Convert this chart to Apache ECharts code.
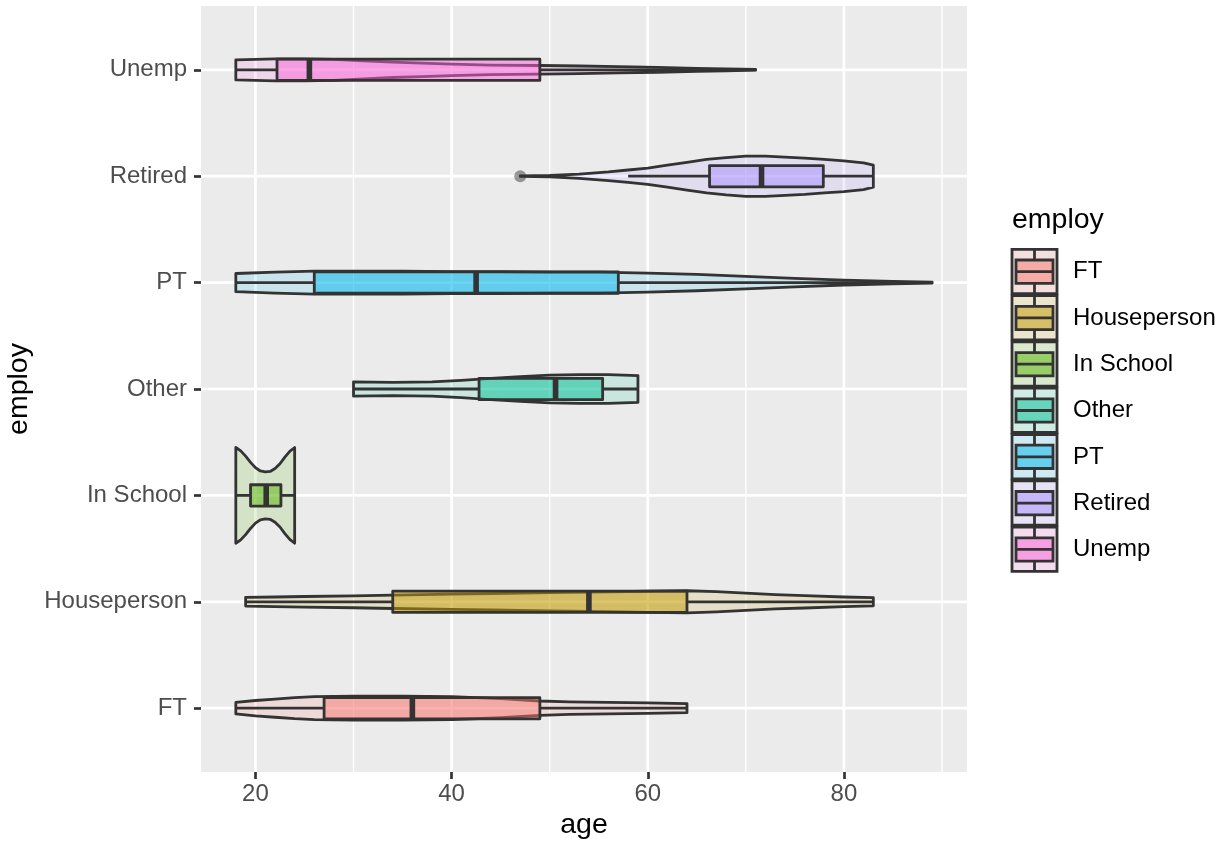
<!DOCTYPE html>
<html><head><meta charset="utf-8">
<script src="https://cdn.jsdelivr.net/npm/echarts@6/dist/echarts.min.js"></script>
<style>html,body{margin:0;padding:0;background:#fff}#c{width:1222px;height:843px}</style>
</head><body><div id="c"></div><script>
// ---- data ----
const categories = ['FT','Houseperson','In School','Other','PT','Retired','Unemp'];
const colors = ['#F8766D','#C49A00','#53B400','#00C094','#00B6EB','#A58AFF','#FB61D7'];
const whiskerLow  = [18, 19, 18,   30,   18, 58,   18];
const q1          = [27, 34, 19.5, 42.8, 26, 66.3, 22.2];
const medians     = [36, 54, 21.1, 50.6, 42.5, 71.6, 25.5];
const q3          = [49, 64, 22.6, 55.4, 57, 77.9, 49];
const whiskerHigh = [64, 83, 24,   59,   89, 83,   71];
const outliers = [[47, 'Retired']];
// violin relative density profiles [age, density(0..1)]
const densityFT = [[18,.12],[20,.16],[22,.19],[24,.22],[26,.24],[30,.25],[35,.25],[40,.24],[45,.2],[49,.15],[52,.13],[56,.12],[60,.11],[64,.095]];
const densityHouseperson = [[19,.09],[22,.1],[25,.11],[30,.125],[34,.14],[40,.16],[44,.17],[50,.19],[54,.2],[60,.22],[64,.23],[67,.21],[70,.18],[73,.15],[76,.13],[80,.1],[83,.085]];
const densityInSchool = [[18,1.0],[18.5,.93],[19,.82],[19.5,.69],[20,.58],[20.5,.51],[21,.49],[21.5,.5],[22,.56],[22.5,.66],[23,.8],[23.5,.92],[24,1.0]];
const densityOther = [[30,.15],[34,.14],[38,.15],[41,.18],[44,.22],[47,.26],[50,.29],[53,.3],[56,.3],[59,.28]];
const densityPT = [[18,.19],[22,.22],[26,.24],[30,.24],[35,.24],[40,.23],[45,.23],[50,.22],[55,.22],[60,.2],[65,.17],[70,.13],[75,.09],[80,.05],[85,.025],[89,.008]];
const densityRetired = [[47,.005],[50,.015],[53,.045],[56,.09],[58,.13],[60,.17],[62,.23],[64,.29],[66,.35],[68,.39],[70,.42],[72,.42],[74,.4],[76,.38],[78,.35],[80,.32],[82,.28],[83,.23]];
const densityUnemp = [[18,.21],[20,.22],[22,.23],[25,.23],[28,.22],[31,.19],[34,.16],[37,.14],[40,.12],[44,.1],[49,.09],[53,.08],[57,.065],[61,.05],[65,.03],[68,.02],[71,.008]];
const majorBreaks = [20, 40, 60, 80];
const minorBreaks = [30, 50, 70, 90];

// ---- styles ----
const profiles = [densityFT, densityHouseperson, densityInSchool, densityOther, densityPT, densityRetired, densityUnemp];
const VIOLIN_HALF = 0.45, BOX_HALF = 0.1;
const LW = 2.8, INK = '#333333';
const FONT = 'Liberation Sans, Arial, sans-serif';
function rgba(hex, a){const n=parseInt(hex.slice(1),16);return `rgba(${n>>16&255},${n>>8&255},${n&255},${a})`;}
const yTicks = categories.map((c,i)=>i+1);

const chart = echarts.init(document.getElementById('c'), null, {renderer:'canvas'});

function gridV(width){
  return function(params, api){
    const cs = params.coordSys;
    const x = api.coord([api.value(0), 1])[0];
    return {type:'line', shape:{x1:x,y1:cs.y,x2:x,y2:cs.y+cs.height}, style:{stroke:'#fff',lineWidth:width}};
  };
}
function gridH(params, api){
  const cs = params.coordSys;
  const y = api.coord([50, api.value(0)])[1];
  return {type:'line', shape:{x1:cs.x,y1:y,x2:cs.x+cs.width,y2:y}, style:{stroke:'#fff',lineWidth:2.7}};
}
function renderViolin(params, api){
  const i = api.value(0);
  const prof = profiles[i];
  const yc = i + 1;
  const top = prof.map(p => api.coord([p[0], yc + p[1]*VIOLIN_HALF]));
  const bot = prof.map(p => api.coord([p[0], yc - p[1]*VIOLIN_HALF])).reverse();
  return {type:'polygon', shape:{points: top.concat(bot)},
    style:{fill: rgba(colors[i], 0.15), stroke: INK, lineWidth: LW, lineJoin:'round'}};
}
function renderBox(params, api){
  const i = api.value(0), yc = i + 1;
  const lo = api.value(1), a = api.value(2), m = api.value(3), b = api.value(4), hi = api.value(5);
  const pLo = api.coord([lo, yc]), pA = api.coord([a, yc]), pB = api.coord([b, yc]), pHi = api.coord([hi, yc]);
  const r1 = api.coord([a, yc + BOX_HALF]), r2 = api.coord([b, yc - BOX_HALF]);
  const m1 = api.coord([m, yc + BOX_HALF]), m2 = api.coord([m, yc - BOX_HALF]);
  const line = {stroke: INK, lineWidth: LW};
  return {type:'group', children:[
    {type:'line', shape:{x1:pLo[0],y1:pLo[1],x2:pA[0],y2:pA[1]}, style:line},
    {type:'line', shape:{x1:pB[0],y1:pB[1],x2:pHi[0],y2:pHi[1]}, style:line},
    {type:'rect', shape:{x:r1[0],y:r1[1],width:r2[0]-r1[0],height:r2[1]-r1[1]},
      style:{fill: rgba(colors[i],0.5), stroke: INK, lineWidth: LW, lineJoin:'round'}},
    {type:'line', shape:{x1:m1[0],y1:m1[1],x2:m2[0],y2:m2[1]}, style:{stroke:INK,lineWidth:LW*2}}
  ]};
}

// legend graphics
const KEY_X = 1012, KEY_Y0 = 249.3, KEY_STEP = 46.3, KEY_W = 45, KEY_H = 44.3;
const legendEls = [{type:'text', left: KEY_X, top: 206, style:{text:'employ', font:`28.5px ${FONT}`, fill:'#000'}}];
categories.forEach((c,i)=>{
  const y = KEY_Y0 + i*KEY_STEP;
  const cx = KEY_X + KEY_W/2;
  legendEls.push(
    {type:'rect', shape:{x:KEY_X,y:y,width:KEY_W,height:KEY_H}, style:{fill:'#F2F2F2'}},
    {type:'rect', shape:{x:KEY_X,y:y,width:KEY_W,height:KEY_H}, style:{fill:rgba(colors[i],0.15), stroke:INK, lineWidth:LW}},
    {type:'line', shape:{x1:cx,y1:y,x2:cx,y2:y+10.7}, style:{stroke:INK,lineWidth:LW}},
    {type:'line', shape:{x1:cx,y1:y+34,x2:cx,y2:y+KEY_H}, style:{stroke:INK,lineWidth:LW}},
    {type:'rect', shape:{x:KEY_X+4,y:y+10.7,width:KEY_W-8,height:23.3}, style:{fill:rgba(colors[i],0.5), stroke:INK, lineWidth:LW}},
    {type:'line', shape:{x1:KEY_X+4,y1:y+22.3,x2:KEY_X+KEY_W-4,y2:y+22.3}, style:{stroke:INK,lineWidth:LW}},
    {type:'text', x: 1073, y: y+22.5, style:{text:c, font:`24px ${FONT}`, fill:'#000', verticalAlign:'middle', align:'left'}}
  );
});

const option = {
  animation: false,
  backgroundColor: '#ffffff',
  grid: {left: 201, top: 6, width: 766, height: 766, show: true, backgroundColor: '#EBEBEB', borderWidth: 0,
    containLabel: false, outerBoundsMode: 'none'},
  xAxis: {
    type: 'value', min: 14.45, max: 92.55,
    axisLine: {show: false}, splitLine: {show: false},
    axisTick: {show: true, customValues: majorBreaks, length: 7, lineStyle: {color: INK, width: 2.7}},
    axisLabel: {customValues: majorBreaks, color: '#4D4D4D', fontSize: 24, fontFamily: FONT, margin: 10},
    name: 'age', nameLocation: 'middle', nameGap: 39,
    nameTextStyle: {fontSize: 28.5, color: '#000', fontFamily: FONT}
  },
  yAxis: {
    type: 'value', min: 0.4, max: 7.6,
    axisLine: {show: false}, splitLine: {show: false},
    axisTick: {show: true, customValues: yTicks, length: 7, lineStyle: {color: INK, width: 2.7}},
    axisLabel: {customValues: yTicks, color: '#4D4D4D', fontSize: 24, fontFamily: FONT, margin: 14,
      formatter: v => categories[Math.round(v) - 1]},
    name: 'employ', nameLocation: 'middle', nameGap: 166, nameRotate: 90,
    nameTextStyle: {fontSize: 28.5, color: '#000', fontFamily: FONT}
  },
  graphic: legendEls,
  series: [
    {type:'custom', z:0, clip:true, renderItem: gridV(1.35), data: minorBreaks.map(v=>[v])},
    {type:'custom', z:0, clip:true, renderItem: gridV(2.7), data: majorBreaks.map(v=>[v])},
    {type:'custom', z:0, clip:true, renderItem: gridH, data: yTicks.map(v=>[v])},
    {type:'custom', z:2, clip:true, renderItem: renderViolin, data: categories.map((c,i)=>[i])},
    {type:'custom', z:3, clip:true, renderItem: renderBox,
      data: categories.map((c,i)=>[i, whiskerLow[i], q1[i], medians[i], q3[i], whiskerHigh[i]])},
    {type:'scatter', z:4, symbolSize: 12, itemStyle:{color:'rgba(51,51,51,0.6)'},
      data: outliers.map(o=>[o[0], categories.indexOf(o[1]) + 1])}
  ]
};
chart.setOption(option);
</script></body></html>
